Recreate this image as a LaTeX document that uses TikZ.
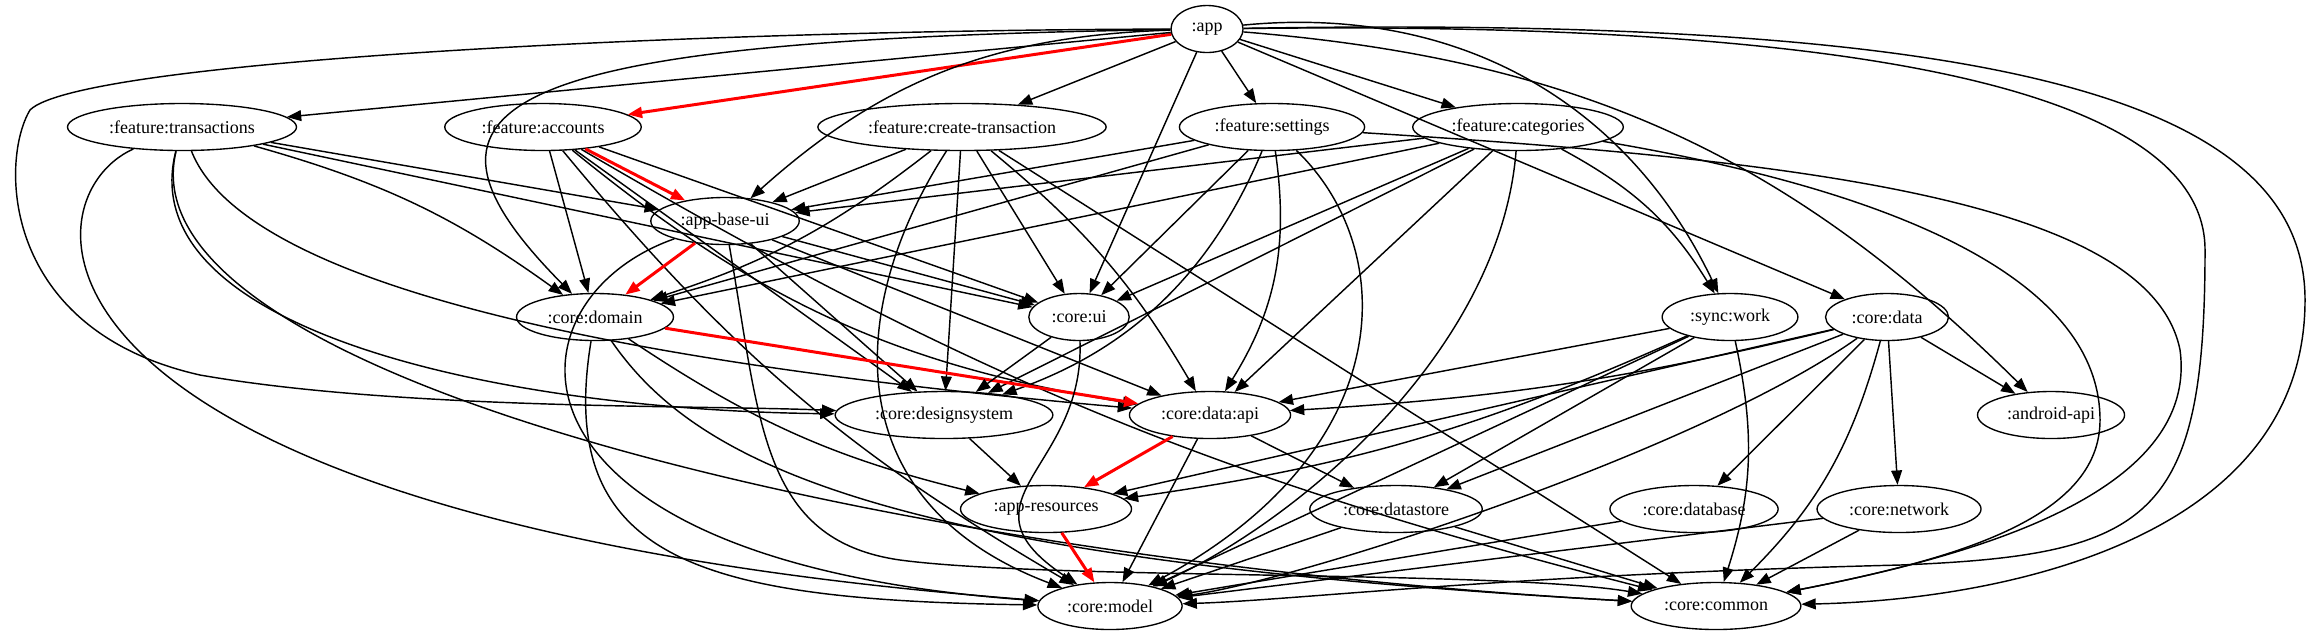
\documentclass[tikz,border=0pt]{standalone}
\usepackage{fontspec}
\setmainfont{Liberation Serif}
\usetikzlibrary{shapes.geometric,arrows.meta}

\tikzset{
  module/.style={draw,ellipse,line width=0.34pt,inner xsep=2pt,inner ysep=0.5pt,
    minimum height=11.75pt,minimum width=18pt,font=\fontsize{4.5}{5}\selectfont},
  dep/.style={line width=0.36pt,-{Triangle[length=3.6pt,width=2.7pt]}},
  crit/.style={dep,red,line width=0.75pt},
}

\begin{document}
\begin{tikzpicture}[x=0.25pt,y=-0.25pt]
\useasboundingbox (0,0) rectangle (2318,635);

\node[module] (app) at (1207,29) {:app};
\node[module] (ftrans) at (182,127) {:feature:transactions};
\node[module] (facc) at (543,127) {:feature:accounts};
\node[module] (fcreate) at (962,127) {:feature:create-transaction};
\node[module] (fset) at (1272,127) {:feature:settings};
\node[module] (fcat) at (1518,127) {:feature:categories};
\node[module] (baseui) at (725,221) {:app-base-ui};
\node[module] (cdomain) at (595,317) {:core:domain};
\node[module] (cui) at (1079,317) {:core:ui};
\node[module] (swork) at (1730,317) {:sync:work};
\node[module] (cdata) at (1887,317) {:core:data};
\node[module] (cdesign) at (944,415) {:core:designsystem};
\node[module] (capi) at (1210,415) {:core:data:api};
\node[module] (andapi) at (2051,415) {:android-api};
\node[module] (ares) at (1046,509) {:app-resources};
\node[module] (cstore) at (1396,509) {:core:datastore};
\node[module] (cdb) at (1694,509) {:core:database};
\node[module] (cnet) at (1899,509) {:core:network};
\node[module] (cmodel) at (1110,606) {:core:model};
\node[module] (ccommon) at (1716,606) {:core:common};

% :app
\draw[crit] (app) -- (facc);
\draw[dep] (app) edge (ftrans) edge (fcreate) edge (fset) edge (fcat) edge (cui) edge (cdata)
  edge[bend right=20] (baseui) edge[bend left=35] (swork) edge[bend left=20] (andapi);
\draw[dep] (app) .. controls (500,40) and (380,100) .. (cdomain);
\draw[dep] (app) .. controls (700,30) and (80,60) .. (30,110) .. controls (0,160) and (0,330) .. (200,375)
  .. controls (400,410) and (700,405) .. (cdesign);
\draw[dep] (app) .. controls (1900,20) and (2205,100) .. (2205,250) .. controls (2205,520) and (2150,555) .. (1900,565)
  .. controls (1500,575) and (1300,600) .. (cmodel);
\draw[dep] (app) .. controls (2000,15) and (2305,100) .. (2305,300) .. controls (2305,540) and (2000,600) .. (ccommon);

% features
\draw[dep] (ftrans) edge (baseui) edge (cui) edge[bend left=10] (cdomain);
\draw[dep] (ftrans) .. controls (130,330) and (500,410) .. (cdesign);
\draw[dep] (ftrans) .. controls (250,300) and (700,370) .. (capi);
\draw[dep] (ftrans) .. controls (20,200) and (0,520) .. (cmodel);
\draw[dep] (ftrans) .. controls (120,380) and (900,560) .. (ccommon);

\draw[crit] (facc) -- (baseui);
\draw[dep] (facc) edge (cui) edge (cdomain) edge (cdesign) edge[bend right=15] (capi)
  edge[bend right=10] (cmodel) edge[bend right=8] (ccommon);

\draw[dep] (fcreate) edge (baseui) edge[bend left=10] (cdomain) edge (cui) edge (cdesign)
  edge[bend left=10] (capi) edge (ccommon);
\draw[dep] (fcreate) .. controls (850,300) and (830,500) .. (cmodel);

\draw[dep] (fset) edge (baseui) edge (cdomain) edge (cui) edge[bend left=20] (capi);
\draw[dep] (fset) .. controls (1200,300) and (1100,360) .. (cdesign);
\draw[dep] (fset) .. controls (1400,250) and (1400,450) .. (cmodel);
\draw[dep] (fset) .. controls (1800,160) and (2150,200) .. (2180,350) .. controls (2200,500) and (1950,560) .. (ccommon);

\draw[dep] (fcat) edge (baseui) edge (cdomain) edge (cui) edge (cdesign) edge (capi)
  edge[bend left=15] (swork);
\draw[dep] (fcat) .. controls (1500,350) and (1300,520) .. (cmodel);
\draw[dep] (fcat) .. controls (1950,200) and (2100,300) .. (2100,420) .. controls (2100,520) and (1950,560) .. (ccommon);

% core
\draw[crit] (baseui) -- (cdomain);
\draw[dep] (baseui) edge (cui) edge (cdesign) edge (capi);
\draw[dep] (baseui) .. controls (500,300) and (480,560) .. (cmodel);
\draw[dep] (baseui) .. controls (760,420) and (760,540) .. (900,560) .. controls (1050,580) and (1500,570) .. (ccommon);

\draw[crit] (cdomain) -- (capi);
\draw[dep] (cdomain) edge[bend right=10] (ares);
\draw[dep] (cdomain) .. controls (555,560) and (700,600) .. (cmodel);
\draw[dep] (cdomain) .. controls (700,470) and (900,560) .. (ccommon);

\draw[dep] (cui) -- (cdesign);
\draw[dep] (cui) .. controls (1085,470) and (950,500) .. (cmodel);
\draw[dep] (cdesign) -- (ares);

\draw[crit] (capi) -- (ares);
\draw[dep] (capi) edge (cstore) edge (cmodel);
\draw[crit] (ares) -- (cmodel);

\draw[dep] (swork) edge (capi) edge[bend left=8] (ares) edge (cmodel) edge[bend left=15] (ccommon) edge (cstore);
\draw[dep] (cdata) edge[bend left=5] (capi) edge (ares) edge (cstore) edge (cdb) edge (cnet)
  edge[bend left=15] (ccommon) edge (andapi);
\draw[dep] (cdata) .. controls (1700,450) and (1300,580) .. (cmodel);

\draw[dep] (cstore) edge (cmodel) edge (ccommon);
\draw[dep] (cdb) -- (cmodel);
\draw[dep] (cnet) edge (cmodel) edge (ccommon);
\end{tikzpicture}
\end{document}
